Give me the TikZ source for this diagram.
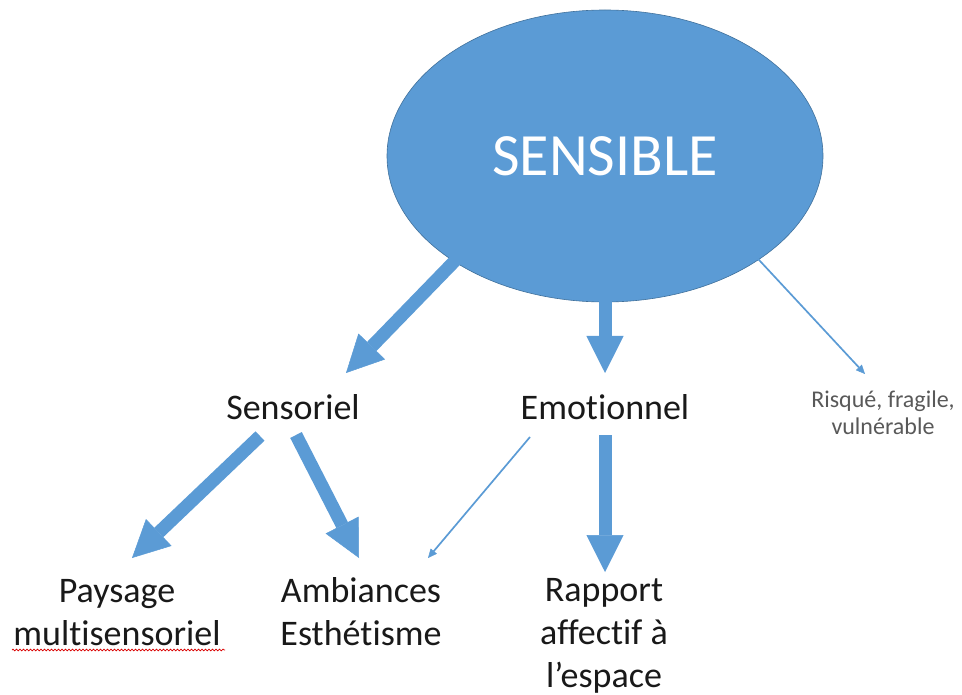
\documentclass[tikz,border=0pt]{standalone}
\usepackage{fontspec}
\setmainfont{Carlito}[Ligatures=NoCommon]
\usetikzlibrary{arrows.meta,shapes.geometric,decorations.pathmorphing}
\definecolor{arrowblue}{HTML}{5B9BD5}
\definecolor{ellborder}{HTML}{41719C}
\definecolor{smallgray}{HTML}{595959}
\begin{document}
\begin{tikzpicture}[x=1pt,y=-1pt,
  label36/.style={inner sep=0pt, anchor=base, align=center, text=black!90,
                  font=\fontsize{36}{43}\selectfont},
  smalllabel/.style={inner sep=0pt, anchor=base, align=center, text=smallgray,
                  font=\fontsize{24}{27}\selectfont},
  thickarrow/.style={draw=arrowblue, line width=13pt,
                  -{Triangle[length=37pt,width=37pt,line width=0.5pt]}},
  thinarrow/.style={draw=arrowblue, line width=1.7pt,
                  -{Triangle[length=9pt,width=8pt,line width=0.5pt]}},
  spellmark/.style={draw=red!85!black, line width=0.7pt,
                  decorate, decoration={snake, amplitude=0.9pt, segment length=3.5pt}}
]
\useasboundingbox (0,0) rectangle (962,695);

\node[ellipse, fill=arrowblue, draw=ellborder, line width=0.6pt,
      minimum width=436pt, minimum height=292pt, inner sep=0pt,
      text=white, font=\fontsize{60}{72}\selectfont] (sens) at (605,156) {SENSIBLE};

% multi-line nodes are anchored at the baseline of their last line
\node[label36] (sensoriel) at (293,419) {Sensoriel};
\node[label36] (emotionnel) at (605,419) {Emotionnel};
\node[smalllabel] (risque) at (883,434) {Risqué, fragile,\\vulnérable};
\node[label36] (paysage) at (117,645) {Paysage\\multisensoriel};
\node[label36] (ambiances) at (361,645) {Ambiances\\Esthétisme};
\node[label36] (rapport) at (604,687) {Rapport\\affectif à\\l’espace};

% from SENSIBLE
\draw[thickarrow, shorten <=-10pt] (sens.215) -- ([shift={(53,-46)}]sensoriel.base);
\draw[thickarrow, shorten <=-6pt] (sens.south) -- ([shift={(0,-46)}]emotionnel.base);
\draw[thinarrow, shorten <=-3pt] (sens.326) -- ([shift={(-18,-60)}]risque.base);

% from Sensoriel
\draw[thickarrow] ([shift={(-33,17)}]sensoriel.base) -- ([shift={(15,-87)}]paysage.base);
\draw[thickarrow] ([shift={(3,16)}]sensoriel.base) -- ([shift={(-2,-87)}]ambiances.base);

% from Emotionnel
\draw[thinarrow] ([shift={(-75,18)}]emotionnel.base) -- ([shift={(67,-87)}]ambiances.base);
\draw[thickarrow] ([shift={(0,16)}]emotionnel.base) -- ([shift={(1,-115)}]rapport.base);

% spell-check underline
\draw[spellmark] ([shift={(-105,5)}]paysage.base) -- ([shift={(108,5)}]paysage.base);
\end{tikzpicture}
\end{document}
